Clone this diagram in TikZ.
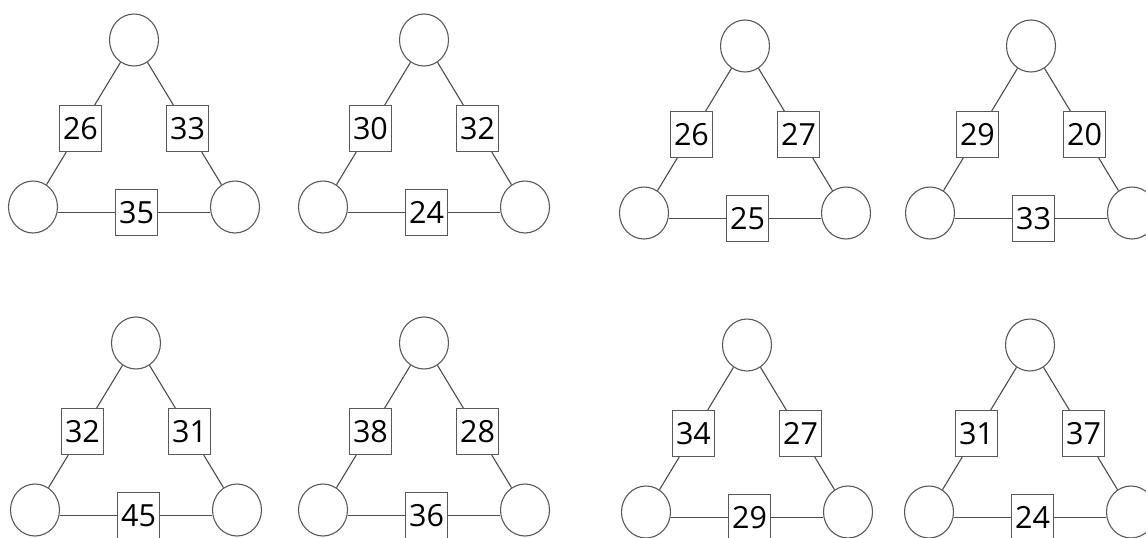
\documentclass[tikz,border=0pt]{standalone}
\usepackage{fontspec}
\setmainfont{Open Sans}
\usetikzlibrary{shapes.geometric,calc}
\tikzset{
  circ/.style={ellipse, draw=black!65, line width=1.1pt, fill=white, minimum width=49pt, minimum height=52pt, inner sep=0pt},
  numbox/.style={rectangle, draw=black!65, line width=1.1pt, fill=white, minimum width=42pt, minimum height=46pt, inner sep=0pt, text=black, font=\fontsize{30.5}{30.5}\selectfont},
  link/.style={draw=black!70, line width=1.1pt}
}
\newcommand\mytri[6]{%
  \node[circ] (#1t) at (#2,#3) {};
  \node[circ] (#1l) at (#2-101,#3+167) {};
  \node[circ] (#1r) at (#2+101,#3+167) {};
  \node[numbox] (#1a) at ($(#1t)!0.53!(#1l)$) {#4};
  \node[numbox] (#1b) at ($(#1t)!0.53!(#1r)$) {#5};
  \node[numbox] (#1c) at ($(#1l)!0.5!(#1r)+(2.5,5.5)$) {#6};
  \draw[link] (#1t) -- (#1a) (#1a) -- (#1l) (#1t) -- (#1b) (#1b) -- (#1r);
  \draw[link] (#1c.west) -- (#1c.west -| #1l.east) (#1c.east) -- (#1c.east -| #1r.west);
}
\begin{document}
\begin{tikzpicture}[x=1pt,y=-1pt]
\useasboundingbox (0,0) rectangle (1146,538);
\clip (0,0) rectangle (1146,538);
\mytri{p}{134}{40}{26}{33}{35}
\mytri{q}{424}{40}{30}{32}{24}
\mytri{r}{745}{46}{26}{27}{25}
\mytri{s}{1031}{46}{29}{20}{33}
\mytri{u}{136}{343}{32}{31}{45}
\mytri{v}{424}{343}{38}{28}{36}
\mytri{w}{747}{345}{34}{27}{29}
\mytri{z}{1030}{345}{31}{37}{24}
\end{tikzpicture}
\end{document}
